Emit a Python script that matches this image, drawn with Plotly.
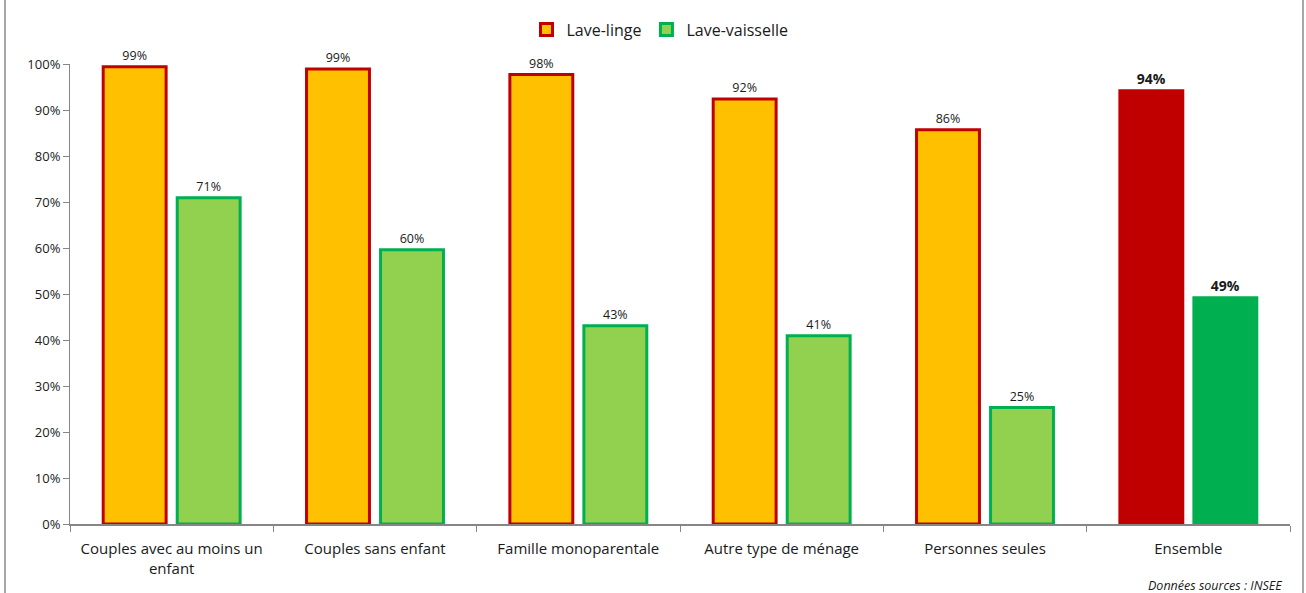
import plotly.graph_objects as go

categories = ["Couples avec au moins un<br>enfant", "Couples sans enfant", "Famille monoparentale",
              "Autre type de ménage", "Personnes seules", "Ensemble"]
lave_linge = [99.4, 98.9, 97.7, 92.4, 85.7, 94.2]
lave_vaisselle = [70.9, 59.6, 43.1, 40.9, 25.3, 49.2]
y_ticks = [0, 10, 20, 30, 40, 50, 60, 70, 80, 90, 100]

def labels(vals):
    out = []
    for i, v in enumerate(vals):
        t = f"{round(v)}%"
        out.append(f"<b>{t}</b>" if i == len(vals) - 1 else t)
    return out

def fonts(vals):
    return [14 if i == len(vals) - 1 else 12.5 for i in range(len(vals))]

n = len(categories)
fig = go.Figure()
fig.add_trace(go.Bar(
    name="Lave-linge", x=categories, y=lave_linge,
    text=labels(lave_linge), textposition="outside", cliponaxis=False,
    textfont=dict(size=fonts(lave_linge), color="#1a1a1a", family="Open Sans"),
    marker=dict(color=["#FFC000"] * (n - 1) + ["#C00000"],
                line=dict(color="#C00000", width=3)),
))
fig.add_trace(go.Bar(
    name="Lave-vaisselle", x=categories, y=lave_vaisselle,
    text=labels(lave_vaisselle), textposition="outside", cliponaxis=False,
    textfont=dict(size=fonts(lave_vaisselle), color="#1a1a1a", family="Open Sans"),
    marker=dict(color=["#92D050"] * (n - 1) + ["#00B050"],
                line=dict(color="#00B050", width=3)),
))

fig.update_layout(
    width=1306, height=593,
    margin=dict(l=70, r=16, t=64, b=69, autoexpand=False),
    paper_bgcolor="white", plot_bgcolor="white",
    barmode="group", bargap=0.272, bargroupgap=0.15,
    font=dict(family="Open Sans", color="#1a1a1a"),
    showlegend=True,
    legend=dict(orientation="h", x=(660 - 70) / 1220, xanchor="center", y=1.075, yanchor="middle",
                font=dict(size=16, family="Open Sans"), itemwidth=30,
                traceorder="normal"),
    xaxis=dict(showline=True, linecolor="#868686", linewidth=2,
               ticks="outside", tickson="boundaries", ticklen=6, tickcolor="#868686",
               ticklabelstandoff=10,
               tickfont=dict(size=15, family="Open Sans"), showgrid=False),
    yaxis=dict(range=[0, 100], tickvals=y_ticks, ticktext=[f"{v}%" for v in y_ticks],
               showline=True, linecolor="#868686", linewidth=1,
               ticks="outside", ticklen=6, tickcolor="#868686",
               tickfont=dict(size=13, family="Open Sans"), showgrid=False, zeroline=False),
    shapes=[dict(type="rect", xref="paper", yref="paper",
                 x0=(5 - 70) / 1220, x1=(1303 - 70) / 1220,
                 y0=(524 - 600) / 460, y1=(524 + 10) / 460,
                 line=dict(color="#8a8a8a", width=1.5))],
    annotations=[dict(text="<i>Données sources : INSEE</i>", xref="paper", yref="paper",
                      x=(1284 - 70) / 1220, y=(524 - 585) / 460, xanchor="right", yanchor="middle",
                      showarrow=False, font=dict(size=12.5, family="Open Sans", color="#1a1a1a"))],
)

fig.write_html("out.html")
